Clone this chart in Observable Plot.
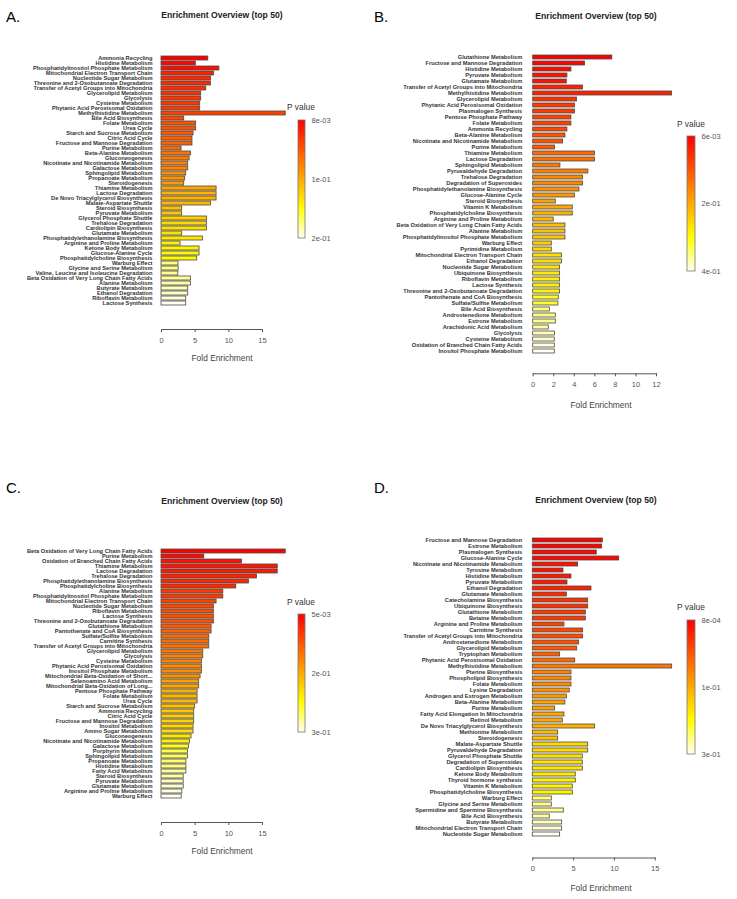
<!DOCTYPE html>
<html><head><meta charset="utf-8">
<script src="https://cdn.jsdelivr.net/npm/d3@7"></script>
<script src="https://cdn.jsdelivr.net/npm/@observablehq/plot@0.6"></script>
<style>
html,body{margin:0;padding:0;background:#fff;}
#page{position:relative;width:737px;height:899px;overflow:hidden;font-family:"Liberation Sans",Arial,sans-serif;}
.abs{position:absolute;white-space:nowrap;line-height:1;}
</style></head><body><div id="page"></div>
<script>
// ---------------- DATA ----------------
const namesA = ["Ammonia Recycling","Histidine Metabolism","Phosphatidylinositol Phosphate Metabolism","Mitochondrial Electron Transport Chain","Nucleotide Sugar Metabolism","Threonine and 2-Oxobutanoate Degradation","Transfer of Acetyl Groups into Mitochondria","Glycerolipid Metabolism","Glycolysis","Cysteine Metabolism","Phytanic Acid Peroxisomal Oxidation","Methylhistidine Metabolism","Bile Acid Biosynthesis","Folate Metabolism","Urea Cycle","Starch and Sucrose Metabolism","Citric Acid Cycle","Fructose and Mannose Degradation","Purine Metabolism","Beta-Alanine Metabolism","Gluconeogenesis","Nicotinate and Nicotinamide Metabolism","Galactose Metabolism","Sphingolipid Metabolism","Propanoate Metabolism","Steroidogenesis","Thiamine Metabolism","Lactose Degradation","De Novo Triacylglycerol Biosynthesis","Malate-Aspartate Shuttle","Steroid Biosynthesis","Pyruvate Metabolism","Glycerol Phosphate Shuttle","Trehalose Degradation","Cardiolipin Biosynthesis","Glutamate Metabolism","Phosphatidylethanolamine Biosynthesis","Arginine and Proline Metabolism","Ketone Body Metabolism","Glucose-Alanine Cycle","Phosphatidylcholine Biosynthesis","Warburg Effect","Glycine and Serine Metabolism","Valine, Leucine and Isoleucine Degradation","Beta Oxidation of Very Long Chain Fatty Acids","Alanine Metabolism","Butyrate Metabolism","Ethanol Degradation","Riboflavin Metabolism","Lactose Synthesis"];
const foldA = [6.95,5.1,8.6,7.8,7.35,7.35,6.65,5.9,5.9,5.75, 5.75,18.45,3.37,5.15,5.15,4.76,4.6,4.6,2.98,4.37, 4.17,3.97,3.97,3.67,3.52,3.37,8.18,8.18,8.18,7.35, 3.07,3.07,6.75,6.75,6.75,3.07,6.15,2.83,5.65,5.65, 5.3,2.53,2.55,2.5,4.37,4.37,3.97,3.97,3.67,3.67];
const pA = [0.0080,0.0118,0.0157,0.0260,0.0291,0.0310,0.0330,0.0349,0.0368,0.0387, 0.0406,0.0445,0.0483,0.0531,0.0541,0.0579,0.0618,0.0620,0.0675,0.0714, 0.0771,0.0802,0.0810,0.0886,0.0906,0.0944,0.1021,0.1078,0.1080,0.1117, 0.1155,0.1213,0.1251,0.1309,0.1347,0.1366,0.1386,0.1443,0.1462,0.1482, 0.1501,0.1750,0.1760,0.1789,0.1827,0.1846,0.1885,0.1904,0.1942,0.2000];

const namesB = ["Glutathione Metabolism","Fructose and Mannose Degradation","Histidine Metabolism","Pyruvate Metabolism","Glutamate Metabolism","Transfer of Acetyl Groups into Mitochondria","Methylhistidine Metabolism","Glycerolipid Metabolism","Phytanic Acid Peroxisomal Oxidation","Plasmalogen Synthesis","Pentose Phosphate Pathway","Folate Metabolism","Ammonia Recycling","Beta-Alanine Metabolism","Nicotinate and Nicotinamide Metabolism","Purine Metabolism","Thiamine Metabolism","Lactose Degradation","Sphingolipid Metabolism","Pyruvaldehyde Degradation","Trehalose Degradation","Degradation of Superoxides","Phosphatidylethanolamine Biosynthesis","Glucose-Alanine Cycle","Steroid Biosynthesis","Vitamin K Metabolism","Phosphatidylcholine Biosynthesis","Arginine and Proline Metabolism","Beta Oxidation of Very Long Chain Fatty Acids","Alanine Metabolism","Phosphatidylinositol Phosphate Metabolism","Warburg Effect","Pyrimidine Metabolism","Mitochondrial Electron Transport Chain","Ethanol Degradation","Nucleotide Sugar Metabolism","Ubiquinone Biosynthesis","Riboflavin Metabolism","Lactose Synthesis","Threonine and 2-Oxobutanoate Degradation","Pantothenate and CoA Biosynthesis","Sulfate/Sulfite Metabolism","Bile Acid Biosynthesis","Androstenedione Metabolism","Estrone Metabolism","Arachidonic Acid Metabolism","Glycolysis","Cysteine Metabolism","Oxidation of Branched Chain Fatty Acids","Inositol Phosphate Metabolism"];
const foldB = [7.7,5.05,3.72,3.33,3.27,4.85,13.52,4.27,4.07,4.07, 3.72,3.72,3.33,3.14,2.91,2.13,6.02,6.02,2.65,5.37, 4.85,4.85,4.5,4.07,2.2,3.85,3.85,2.0,3.14,3.14, 3.14,1.81,1.81,2.81,2.81,2.62,2.62,2.62,2.62,2.62, 2.49,2.45,1.62,2.2,2.2,1.52,2.13,2.1,2.1,2.1];
const pB = [0.0060,0.0099,0.0159,0.0245,0.0257,0.0430,0.0454,0.0612,0.0710,0.0730, 0.0809,0.0810,0.0887,0.0986,0.1006,0.1084,0.1281,0.1360,0.1439,0.1541, 0.1636,0.1637,0.1715,0.1833,0.1912,0.1991,0.2109,0.2188,0.2266,0.2286, 0.2385,0.2463,0.2562,0.2660,0.2661,0.2739,0.2759,0.2857,0.2858,0.2877, 0.3133,0.3173,0.3508,0.3509,0.3567,0.3645,0.3764,0.3823,0.3882,0.4000];

const namesC = ["Beta Oxidation of Very Long Chain Fatty Acids","Purine Metabolism","Oxidation of Branched Chain Fatty Acids","Thiamine Metabolism","Lactose Degradation","Trehalose Degradation","Phosphatidylethanolamine Biosynthesis","Phosphatidylcholine Biosynthesis","Alanine Metabolism","Phosphatidylinositol Phosphate Metabolism","Mitochondrial Electron Transport Chain","Nucleotide Sugar Metabolism","Riboflavin Metabolism","Lactose Synthesis","Threonine and 2-Oxobutanoate Degradation","Glutathione Metabolism","Pantothenate and CoA Biosynthesis","Sulfate/Sulfite Metabolism","Carnitine Synthesis","Transfer of Acetyl Groups into Mitochondria","Glycerolipid Metabolism","Glycolysis","Cysteine Metabolism","Phytanic Acid Peroxisomal Oxidation","Inositol Phosphate Metabolism","Mitochondrial Beta-Oxidation of Short...","Selenoamino Acid Metabolism","Mitochondrial Beta-Oxidation of Long...","Pentose Phosphate Pathway","Folate Metabolism","Urea Cycle","Starch and Sucrose Metabolism","Ammonia Recycling","Citric Acid Cycle","Fructose and Mannose Degradation","Inositol Metabolism","Amino Sugar Metabolism","Gluconeogenesis","Nicotinate and Nicotinamide Metabolism","Galactose Metabolism","Porphyrin Metabolism","Sphingolipid Metabolism","Propanoate Metabolism","Histidine Metabolism","Fatty Acid Metabolism","Steroid Biosynthesis","Pyruvate Metabolism","Glutamate Metabolism","Arginine and Proline Metabolism","Warburg Effect"];
const foldC = [18.45,6.35,11.95,17.26,17.26,14.18,12.99,11.11,9.18,9.18, 8.18,7.78,7.78,7.78,7.78,7.44,7.44,7.1,7.1,7.1, 6.2,6.2,6.0,6.0,6.0,5.8,5.6,5.6,5.36,5.36, 5.36,5.0,4.86,4.86,4.86,4.76,4.76,4.46,4.22,4.07, 3.92,3.92,3.7,3.7,3.7,3.3,3.3,3.3,3.1,3.0];
const pC = [0.0050,0.0124,0.0189,0.0257,0.0271,0.0327,0.0389,0.0404,0.0537,0.0552, 0.0611,0.0670,0.0684,0.0743,0.0758,0.0817,0.0876,0.0965,0.0979,0.1024, 0.1083,0.1159,0.1171,0.1230,0.1245,0.1289,0.1437,0.1496,0.1584,0.1643, 0.1658,0.1717,0.1791,0.1850,0.1864,0.1923,0.1997,0.2056,0.2145,0.2351, 0.2440,0.2528,0.2587,0.2646,0.2705,0.2764,0.2823,0.2882,0.2941,0.3000];

const namesD = ["Fructose and Mannose Degradation","Estrone Metabolism","Plasmalogen Synthesis","Glucose-Alanine Cycle","Nicotinate and Nicotinamide Metabolism","Tyrosine Metabolism","Histidine Metabolism","Pyruvate Metabolism","Ethanol Degradation","Glutamate Metabolism","Catecholamine Biosynthesis","Ubiquinone Biosynthesis","Glutathione Metabolism","Betaine Metabolism","Arginine and Proline Metabolism","Carnitine Synthesis","Transfer of Acetyl Groups into Mitochondria","Androstenedione Metabolism","Glycerolipid Metabolism","Tryptophan Metabolism","Phytanic Acid Peroxisomal Oxidation","Methylhistidine Metabolism","Pterine Biosynthesis","Phospholipid Biosynthesis","Folate Metabolism","Lysine Degradation","Androgen and Estrogen Metabolism","Beta-Alanine Metabolism","Purine Metabolism","Fatty Acid Elongation In Mitochondria","Retinol Metabolism","De Novo Triacylglycerol Biosynthesis","Methionine Metabolism","Steroidogenesis","Malate-Aspartate Shuttle","Pyruvaldehyde Degradation","Glycerol Phosphate Shuttle","Degradation of Superoxides","Cardiolipin Biosynthesis","Ketone Body Metabolism","Thyroid hormone synthesis","Vitamin K Metabolism","Phosphatidylcholine Biosynthesis","Warburg Effect","Glycine and Serine Metabolism","Spermidine and Spermine Biosynthesis","Bile Acid Biosynthesis","Butyrate Metabolism","Mitochondrial Electron Transport Chain","Nucleotide Sugar Metabolism"];
const foldD = [8.58,8.5,7.84,10.59,5.56,3.76,4.74,4.25,7.19,4.17, 6.79,6.79,6.5,6.5,3.88,6.17,6.17,5.68,5.44,3.35, 5.2,17.08,4.74,4.74,4.74,4.53,4.17,4.0,2.74,3.88, 3.68,7.64,3.11,3.11,6.79,6.79,6.13,6.13,6.13,5.27, 5.27,4.9,4.9,2.33,2.33,3.8,2.08,3.6,3.6,3.35];
const pD = [0.0008,0.0037,0.0080,0.0095,0.0144,0.0153,0.0210,0.0225,0.0280,0.0355, 0.0413,0.0427,0.0485,0.0500,0.0557,0.0615,0.0630,0.0688,0.0760,0.0818, 0.0905,0.1020,0.1095,0.1165,0.1179,0.1223,0.1309,0.1367,0.1382,0.1425, 0.1440,0.1512,0.1570,0.1642,0.1845,0.1859,0.1917,0.1931,0.1975,0.1989, 0.2061,0.2076,0.2090,0.2539,0.2553,0.2582,0.2640,0.2726,0.2784,0.2900];

const ticksA = [0,5,10,15];
const ticksB = [0,2,4,6,8,10,12];
const ticksC = [0,5,10,15];
const ticksD = [0,5,10,15];
const legendLabelsA = ["8e-03","1e-01","2e-01"];
const legendLabelsB = ["6e-03","2e-01","4e-01"];
const legendLabelsC = ["5e-03","2e-01","3e-01"];
const legendLabelsD = ["8e-04","1e-01","3e-01"];
const panelLetters = ["A.","B.","C.","D."];
const titleText = "Enrichment Overview (top 50)";
const xLabelText = "Fold Enrichment";
const legendTitle = "P value";

// ---------------- LAYOUT ----------------
const FONT = "'Liberation Sans', Arial, Helvetica, sans-serif";
const panels = [
  {names:namesA, fold:foldA, p:pA, ticks:ticksA, xDomain:[0,15], legend:legendLabelsA, letter:panelLetters[0],
   L:{ox:0, oy:0, w:368, h:440, x0:161, x1:262, yFirst:43.7, yLast:316, axisY:329, gap:9,
      letter:[6,16], title:[222,15], xlab:[222,358], pv:[301,107], grad:{x:298,y:120,w:7,h:118}}},
  {names:namesB, fold:foldB, p:pB, ticks:ticksB, xDomain:[0,12], legend:legendLabelsB, letter:panelLetters[1],
   L:{ox:368, oy:0, w:369, h:440, x0:532.7, x1:656, yFirst:49.8, yLast:358, axisY:373.3, gap:11,
      letter:[374,16], title:[596,16], xlab:[601,405], pv:[691,124], grad:{x:687,y:136,w:8,h:135}}},
  {names:namesC, fold:foldC, p:pC, ticks:ticksC, xDomain:[0,15], legend:legendLabelsC, letter:panelLetters[2],
   L:{ox:0, oy:440, w:368, h:459, x0:161, x1:262, yFirst:537, yLast:809, axisY:822, gap:9,
      letter:[6,487], title:[222,501], xlab:[222,851], pv:[301,602], grad:{x:298,y:614,w:7,h:118}}},
  {names:namesD, fold:foldD, p:pD, ticks:ticksD, xDomain:[0,15], legend:legendLabelsD, letter:panelLetters[3],
   L:{ox:368, oy:440, w:369, h:459, x0:532.3, x1:654.7, yFirst:533, yLast:841, axisY:857.5, gap:10.5,
      letter:[374,487], title:[596,500], xlab:[601,888], pv:[691,607], grad:{x:687,y:620,w:8,h:134}}}
];

const page = document.getElementById("page");
function place(el, left, top) {
  const d = document.createElement("div");
  d.className = "abs";
  d.style.left = left + "px";
  d.style.top = top + "px";
  d.appendChild(el);
  page.appendChild(d);
}
function addText(txt, x, y, css, anchor) {
  const d = document.createElement("div");
  d.className = "abs";
  d.textContent = txt;
  d.style.left = x + "px";
  d.style.top = y + "px";
  d.style.transform = anchor === "start" ? "translate(0,-50%)" : "translate(-50%,-50%)";
  Object.assign(d.style, css);
  page.appendChild(d);
}

const plotStyle = {fontFamily: FONT, background: "transparent", overflow: "visible"};

for (const P of panels) {
  const L = P.L;
  const rows = P.names.map((n, i) => ({name: n, fold: P.fold[i], p: P.p[i]}));
  const n = P.names.length;
  const step = (L.yLast - L.yFirst) / (n - 1);
  const pad = 0.27;
  const r0 = L.yFirst - L.oy - step * (1 + pad) / 2;
  const r1 = r0 + step * (n + pad);
  const [pmin, pmax] = d3.extent(P.p);
  const colorScale = {type: "linear", domain: [pmin, pmin + 0.75 * (pmax - pmin), pmax],
                      range: ["#ff0000", "#ffff00", "#fffff4"], interpolate: "rgb"};

  const chart = Plot.plot({
    width: L.w, height: L.h,
    marginLeft: L.x0 - L.ox, marginRight: L.ox + L.w - L.x1,
    marginTop: 0, marginBottom: L.oy + L.h - L.axisY,
    x: {domain: P.xDomain, axis: null},
    y: {type: "band", domain: P.names, range: [r0, r1], padding: pad, axis: null},
    color: colorScale,
    style: plotStyle,
    marks: [
      Plot.barX(rows, {x: "fold", y: "name", fill: "p", stroke: "#4a4a4a", strokeWidth: 0.8}),
      Plot.text(rows, {y: "name", text: "name", frameAnchor: "left", dx: -L.gap, textAnchor: "end",
                       fontSize: 5.7, fontWeight: "bold", fill: "#333", fontFamily: FONT}),
      Plot.frame({anchor: "bottom", stroke: "#555"}),
      Plot.axisX({ticks: P.ticks, tickSize: 3, tickPadding: 5, fontSize: 7.5, color: "#555", label: null})
    ]
  });
  place(chart, L.ox, L.oy);

  // legend
  const G = L.grad;
  const nS = 120;
  const slices = d3.range(nS).map(i => [pmin + (pmax - pmin) * i / nS, pmin + (pmax - pmin) * (i + 1) / nS]);
  const legendRows = P.legend.map((lab, i) => ({label: lab, p: [pmin, (pmin + pmax) / 2, pmax][i]}));
  const lw = 50;
  const leg = Plot.plot({
    width: lw, height: G.h + 20,
    marginLeft: 1, marginRight: lw - 1 - G.w, marginTop: 10, marginBottom: 10,
    x: {domain: [0, 1], axis: null},
    y: {domain: [pmin, pmax], reverse: true, axis: null},
    color: colorScale,
    style: plotStyle,
    marks: [
      Plot.rect(slices, {x1: 0, x2: 1, y1: d => d[0], y2: d => d[1], fill: d => (d[0] + d[1]) / 2, shapeRendering: "crispEdges"}),
      Plot.rect([[pmin, pmax]], {x1: 0, x2: 1, y1: d => d[0], y2: d => d[1], fill: "none", stroke: "#777", strokeWidth: 0.8}),
      Plot.text(legendRows, {x: 1, y: "p", text: "label", dx: 6, textAnchor: "start", fontSize: 7.5, fill: "#555", fontFamily: FONT})
    ]
  });
  place(leg, G.x - 1, G.y - 10);

  addText(P.letter, L.letter[0], L.letter[1], {fontSize: "15px", color: "#000"}, "start");
  addText(titleText, L.title[0], L.title[1], {fontSize: "8.6px", fontWeight: "bold", color: "#222"});
  addText(xLabelText, L.xlab[0], L.xlab[1], {fontSize: "8.4px", color: "#444"});
  addText(legendTitle, L.pv[0], L.pv[1], {fontSize: "8.4px", color: "#333"});
}
</script>
</body></html>
